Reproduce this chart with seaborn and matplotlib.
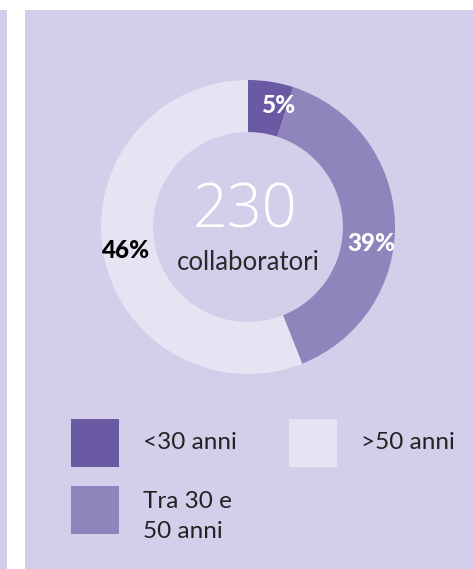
import matplotlib
matplotlib.use("Agg")
import matplotlib.pyplot as plt
from matplotlib.patches import Rectangle
import numpy as np
import seaborn as sns

# ---- data ----
categories = ["<30 anni", "Tra 30 e\n50 anni", ">50 anni"]
values = [5, 39, 56]
pct_labels = ["5%", "39%", "46%"]
total_label = "230"
caption = "collaboratori"

# ---- style ----
sns.set_theme(style="white")
plt.rcParams["font.family"] = ["Lato", "DejaVu Sans"]
palette = sns.color_palette(["#6a5aa3", "#8f84bb", "#e6e3f3"])
bg = "#d3ceea"
label_colors = ["white", "white", "black"]
label_angle_nudge = [-4.8, -9.6, 0.0]

W, H = 473, 569
fig = plt.figure(figsize=(W / 100, H / 100), dpi=100)
fig.patch.set_facecolor("white")

# overlay axes in pixel coordinates (background panel + legend)
ov = fig.add_axes([0, 0, 1, 1], zorder=0)
ov.set_xlim(0, W)
ov.set_ylim(H, 0)
ov.axis("off")
ov.add_patch(Rectangle((0, 10), 7, H - 10, color=bg, lw=0))
ov.add_patch(Rectangle((25, 10), W - 25, H - 10, color=bg, lw=0))

# donut axes
cx, cy, R = 248, 227, 147
ax = fig.add_axes([(cx - R) / W, (H - cy - R) / H, 2 * R / W, 2 * R / H], zorder=1)
ax.patch.set_alpha(0)
wedges, _ = ax.pie(values, colors=palette, startangle=90, counterclock=False,
                   radius=1.0, wedgeprops=dict(width=1 - 0.646, linewidth=0))
ax.set_xlim(-1, 1)
ax.set_ylim(-1, 1)
ax.set_aspect("equal")

for w, lab, col, nud in zip(wedges, pct_labels, label_colors, label_angle_nudge):
    ang = np.deg2rad((w.theta1 + w.theta2) / 2 + nud)
    r = 0.85
    ax.text(r * np.cos(ang), r * np.sin(ang), lab, ha="center", va="center",
            color=col, fontsize=17.5, fontweight="black")

ax.text(-0.02, 0.0, total_label, ha="center", va="baseline", color="white",
        fontsize=44, fontweight=300, family=["Open Sans", "DejaVu Sans"])
ax.text(0.0, -0.293, caption, ha="center", va="baseline", color="#2a2a2a",
        fontsize=18.5)

# legend (manual, two columns); y = baseline of the last text line
legend_pos = [(71, 419, 143, 449), (71, 486, 143, 538), (289, 419, 361, 449)]
for (sx, sy, tx, ty), cat, col in zip(legend_pos, categories, palette):
    ov.add_patch(Rectangle((sx, sy), 48, 48, color=col, lw=0))
    ov.text(tx, ty, cat, ha="left", va="baseline", color="#222222",
            fontsize=17.5, linespacing=1.55)

fig.savefig("out.png", dpi=100, facecolor="white")
